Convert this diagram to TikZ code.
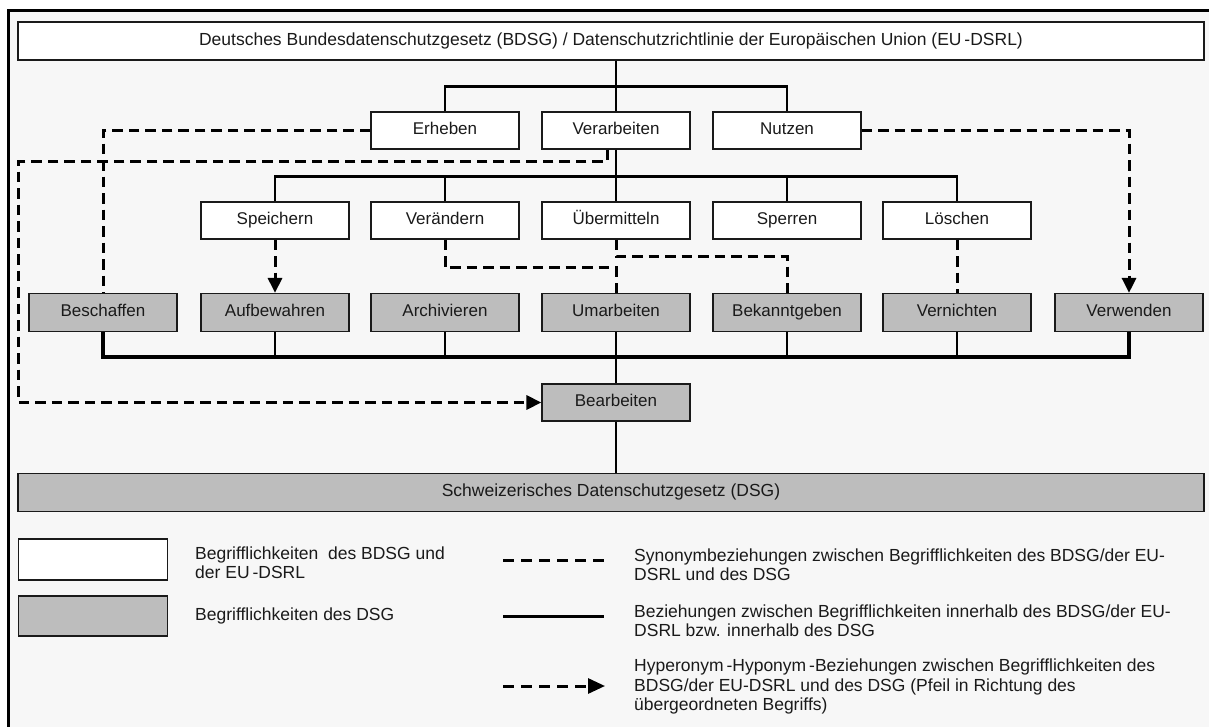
\documentclass[tikz,border=0pt]{standalone}
\usepackage{fontspec}
\setmainfont{Liberation Sans}
\usetikzlibrary{arrows.meta,calc}
\definecolor{paper}{HTML}{F7F7F7}
\definecolor{dsgfill}{HTML}{BDBDBD}
\definecolor{ink}{HTML}{1A1A1A}
\tikzset{
  term/.style={draw=ink, line width=1.2pt, fill=white, minimum width=148pt,
    minimum height=37pt, inner sep=0pt, text=ink, text height=12.3pt,
    text depth=3.6pt, font=\fontsize{17}{20}\selectfont},
  dsgterm/.style={term, fill=dsgfill},
  rel/.style={line width=2.6pt, draw=black},
  syn/.style={line width=3pt, draw=black, dash pattern=on 10.5pt off 6pt},
  hyp/.style={syn, -{Triangle[length=15pt,width=14pt]}},
  legtext/.style={anchor=west, align=left, text=ink, inner sep=0pt,
    font=\fontsize{17.5}{19.5}\selectfont},
}
\begin{document}
\begin{tikzpicture}[x=1pt, y=-1pt]
\useasboundingbox (0,0) rectangle (1209,727);
\fill[white] (0,0) rectangle (1209,727);
% framed sheet, running off the right and bottom edge
\begin{scope}
  \clip (0,0) rectangle (1209,727);
  \draw[line width=2.8pt, fill=paper] (8.5,10.5) rectangle (1230,760);
\end{scope}

% laws
\node[term, minimum width=1186pt, minimum height=38pt,
      font=\fontsize{17.5}{20}\selectfont] (bdsg) at (611,41)
  {Deutsches Bundesdatenschutzgesetz (BDSG) / Datenschutzrichtlinie der Europäischen Union (EU\,-DSRL)};
\node[dsgterm, minimum width=1186pt, minimum height=38pt,
      font=\fontsize{17.5}{20}\selectfont] (dsg) at (611,492.5)
  {Schweizerisches Datenschutzgesetz (DSG)};

% BDSG / EU-DSRL terms
\node[term] (erheben)     at (445,130.5) {Erheben};
\node[term] (verarbeiten) at (616,130.5) {Verarbeiten};
\node[term] (nutzen)      at (787,130.5) {Nutzen};
\node[term] (speichern)   at (275,220.5) {Speichern};
\node[term] (veraendern)  at (445,220.5) {Verändern};
\node[term] (uebermitteln) at (616,220.5) {Übermitteln};
\node[term] (sperren)     at (787,220.5) {Sperren};
\node[term] (loeschen)    at (957,220.5) {Löschen};

% DSG terms
\node[dsgterm, minimum height=38pt] (beschaffen)   at (103,312.5) {Beschaffen};
\node[dsgterm, minimum height=38pt] (aufbewahren)  at (275,312.5) {Aufbewahren};
\node[dsgterm, minimum height=38pt] (archivieren)  at (445,312.5) {Archivieren};
\node[dsgterm, minimum height=38pt] (umarbeiten)   at (616,312.5) {Umarbeiten};
\node[dsgterm, minimum height=38pt] (bekanntgeben) at (787,312.5) {Bekanntgeben};
\node[dsgterm, minimum height=38pt] (vernichten)   at (957,312.5) {Vernichten};
\node[dsgterm, minimum height=38pt] (verwenden)    at (1129,312.5) {Verwenden};
\node[dsgterm] (bearbeiten) at (616,402.5) {Bearbeiten};

% relations within BDSG / EU-DSRL
\draw[rel] (verarbeiten.north |- bdsg.south) -- (verarbeiten.north);
\draw[rel] (erheben.north) -- ++(0,-25) -| (nutzen.north);
\draw[rel] (verarbeiten.south) -- (uebermitteln.north);
\draw[rel] (speichern.north) -- ++(0,-25) -| (loeschen.north);
\draw[rel] (veraendern.north) -- ++(0,-25);
\draw[rel] (sperren.north) -- ++(0,-25);

% relations within DSG
\draw[rel, line width=3.4pt] (beschaffen.south) -- ++(0,25) -| (verwenden.south);
\foreach \n in {aufbewahren,archivieren,umarbeiten,bekanntgeben,vernichten}
  \draw[rel] (\n.south) -- ++(0,25);
\draw[rel] (umarbeiten.south) -- (bearbeiten.north);
\draw[rel] (bearbeiten.south) -- (bearbeiten.south |- dsg.north);

% synonyms and hyperonyms
\coordinate (outer) at (18.6,162);
\draw[syn] (erheben.west) -| (beschaffen.north);
\draw[hyp] ([xshift=-9pt]verarbeiten.south) |- (outer) |- (bearbeiten.west);
\draw[hyp] (speichern.south) -- (aufbewahren.north);
\draw[syn] (veraendern.south) -- ++(0,28) -| (umarbeiten.north);
\draw[syn] (uebermitteln.south) -- ++(0,17) -| (bekanntgeben.north);
\draw[syn] (loeschen.south) -- (vernichten.north);
\draw[hyp] (nutzen.east) -| (verwenden.north);

% legend
\node[term, minimum width=149pt, minimum height=41pt] (legbdsg) at (93,559.5) {};
\node[dsgterm, minimum width=149pt, minimum height=40pt] (legdsg) at (93,616) {};
\node[legtext] (legbdsgtext) at (195,562.5)
  {Begrifflichkeiten\ \ des BDSG und\\der EU\,-DSRL};
\node[legtext] (legdsgtext) at (195,616) {Begrifflichkeiten des DSG};

\coordinate (synA) at (503,560.5);  \coordinate (synB) at (604,560.5);
\coordinate (relA) at (503,616.5);  \coordinate (relB) at (604,616.5);
\coordinate (hypA) at (503,686);    \coordinate (hypB) at (605,686);
\draw[line width=3pt, dash pattern=on 11pt off 7pt] (synA) -- (synB);
\draw[line width=3pt] (relA) -- (relB);
\draw[line width=3pt, dash pattern=on 11pt off 7pt,
      -{Triangle[length=17pt,width=15pt]}] (hypA) -- (hypB);
\node[legtext] (syntext) at (634,564.5)
  {Synonymbeziehungen zwischen Begrifflichkeiten des BDSG/der EU-\\DSRL und des DSG};
\node[legtext] (reltext) at (634,620.5)
  {Beziehungen zwischen Begrifflichkeiten innerhalb des BDSG/der EU-\\DSRL bzw. innerhalb des DSG};
\node[legtext] (hyptext) at (634,686.5)
  {Hyperonym\,-Hyponym\,-Beziehungen zwischen Begrifflichkeiten des\\BDSG/der EU-DSRL und des DSG (Pfeil in Richtung des\\übergeordneten Begriffs)};
\end{tikzpicture}
\end{document}
